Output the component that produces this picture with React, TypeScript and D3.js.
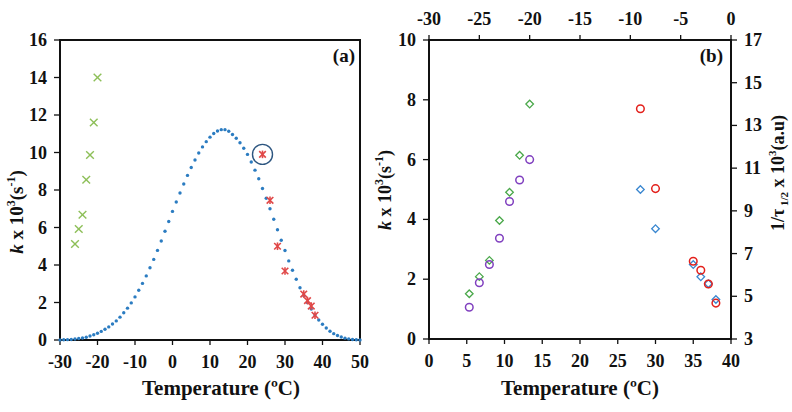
import React from "react";
import * as d3 from "d3";

// ---- Panel (a) data ----
const curveTemps = d3.range(-30, 51, 1);
const curveK = [
  0.0, 0.01, 0.02, 0.03, 0.05, 0.08, 0.11, 0.15, 0.21, 0.28,
  0.36, 0.46, 0.57, 0.7, 0.85, 1.02, 1.22, 1.45, 1.7, 1.98,
  2.3, 2.65, 3.02, 3.42, 3.85, 4.3, 4.78, 5.28, 5.8, 6.32,
  6.86, 7.36, 7.84, 8.32, 8.78, 9.2, 9.6, 9.97, 10.3, 10.58,
  10.82, 11.01, 11.15, 11.22, 11.22, 11.13, 10.96, 10.76, 10.52, 10.23,
  9.9, 9.49, 9.06, 8.6, 8.08, 7.56, 7.0, 6.44, 5.88, 5.32,
  4.77, 4.22, 3.72, 3.24, 2.79, 2.37, 2.0, 1.65, 1.34, 1.07,
  0.84, 0.64, 0.47, 0.34, 0.24, 0.16, 0.1, 0.06, 0.03, 0.01, 0.0,
];
const coldTemps = [-26, -25, -24, -23, -22, -21, -20];
const coldK = [5.12, 5.92, 6.68, 8.55, 9.87, 11.6, 14.0];
const hotTemps = [24, 26, 28, 30, 35, 36, 37, 38];
const hotK = [9.9, 7.45, 5.0, 3.68, 2.45, 2.1, 1.81, 1.32];
const circledIndex = 0;

// ---- Panel (b) data ----
const purpleK = [1.06, 1.88, 2.49, 3.37, 4.6, 5.32, 6.0];
const warmTemps = [28, 30, 35, 36, 37, 38];
const redInvTau = [7.7, 5.03, 2.6, 2.3, 1.84, 1.2];
const blueK = [5.0, 3.69, 2.49, 2.08, 1.85, 1.32];

// ---- ticks ----
const aXTicks = [-30, -20, -10, 0, 10, 20, 30, 40, 50];
const aYTicks = [0, 2, 4, 6, 8, 10, 12, 14, 16];
const bBottomTicks = [0, 5, 10, 15, 20, 25, 30, 35, 40];
const bTopTicks = [-30, -25, -20, -15, -10, -5, 0];
const bLeftTicks = [0, 2, 4, 6, 8, 10];
const bRightTicks = [3, 5, 7, 9, 11, 13, 15, 17];

const FONT = "'Liberation Serif', 'Times New Roman', serif";
const TICK_FS = 18;
const C_BLUE = "#2b7cc1";
const C_LGREEN = "#8dbf58";
const C_RED = "#e04848";
const C_GREEN = "#4aa84a";
const C_PURPLE = "#8040bf";
const C_RED2 = "#e3201b";
const C_BLUE2 = "#3a87d0";

function XMark({ x, y, s, color }: any) {
  return (
    <g stroke={color} strokeWidth={1.4}>
      <line x1={x - s} y1={y - s} x2={x + s} y2={y + s} />
      <line x1={x - s} y1={y + s} x2={x + s} y2={y - s} />
    </g>
  );
}
function StarMark({ x, y, s, color }: any) {
  return (
    <g stroke={color} strokeWidth={1.6}>
      <line x1={x - s} y1={y - s} x2={x + s} y2={y + s} />
      <line x1={x - s} y1={y + s} x2={x + s} y2={y - s} />
      <line x1={x} y1={y - s - 0.5} x2={x} y2={y + s + 0.5} />
    </g>
  );
}
function Diamond({ x, y, s, color }: any) {
  const p = `M${x},${y - s}L${x + s},${y}L${x},${y + s}L${x - s},${y}Z`;
  return <path d={p} fill="white" stroke={color} strokeWidth={1.3} />;
}

function KTitle({ x, y, fs }: any) {
  return (
    <text
      transform={`translate(${x},${y}) rotate(-90)`}
      textAnchor="middle"
      fontFamily={FONT}
      fontWeight="bold"
      fontSize={fs}
      fill="#111"
    >
      <tspan fontStyle="italic">k</tspan>
      <tspan> x 10</tspan>
      <tspan fontSize={12} dy={-8}>3</tspan>
      <tspan dy={8}>(s</tspan>
      <tspan fontSize={12} dy={-8}>-1</tspan>
      <tspan dy={8}>)</tspan>
    </text>
  );
}

export default function App() {
  const W = 792;
  const H = 412;
  // panel a
  const ax = d3.scaleLinear().domain([-30, 50]).range([60, 360]);
  const ay = d3.scaleLinear().domain([0, 16]).range([340, 40]);
  // panel b
  const bx = d3.scaleLinear().domain([0, 40]).range([429, 731]);
  const bxTop = d3.scaleLinear().domain([-30, 0]).range([429, 731]);
  const by = d3.scaleLinear().domain([0, 10]).range([339, 40]);
  const byR = d3.scaleLinear().domain([3, 17]).range([339, 40]);

  const tickText = {
    fontFamily: FONT,
    fontWeight: "bold" as const,
    fontSize: TICK_FS,
    fill: "#111",
  };

  return (
    <svg
      width={W}
      height={H}
      style={{ position: "absolute", left: 0, top: 0, background: "white" }}
    >
      {/* ===== Panel (a) ===== */}
      <rect x={60} y={40} width={300} height={300} fill="none" stroke="#111" strokeWidth={2} />
      {aXTicks.map((t) => (
        <g key={"ax" + t}>
          <line x1={ax(t)} x2={ax(t)} y1={340} y2={345} stroke="#111" strokeWidth={1.3} />
          <text x={ax(t)} y={368} textAnchor="middle" {...tickText}>{t}</text>
        </g>
      ))}
      {aYTicks.map((t) => (
        <g key={"ay" + t}>
          <line x1={54} x2={60} y1={ay(t)} y2={ay(t)} stroke="#111" strokeWidth={1.3} />
          <text x={47} y={ay(t) + 6} textAnchor="end" {...tickText}>{t}</text>
        </g>
      ))}
      <text x={221} y={395} textAnchor="middle" fontFamily={FONT} fontWeight="bold" fontSize={21} fill="#111">
        Temperature (ºC)
      </text>
      <KTitle x={23} y={212} fs={19} />
      <text x={355} y={62} textAnchor="end" fontFamily={FONT} fontWeight="bold" fontSize={19} fill="#111">(a)</text>

      {curveTemps.map((t, i) => (
        <circle key={"c" + t} cx={ax(t)} cy={ay(curveK[i])} r={1.7} fill={C_BLUE} />
      ))}
      {coldTemps.map((t, i) => (
        <XMark key={"g" + t} x={ax(t)} y={ay(coldK[i])} s={3.8} color={C_LGREEN} />
      ))}
      {hotTemps.map((t, i) => (
        <StarMark key={"r" + t} x={ax(t)} y={ay(hotK[i])} s={3.3} color={C_RED} />
      ))}
      <circle
        cx={ax(hotTemps[circledIndex])}
        cy={ay(hotK[circledIndex])}
        r={10}
        fill="none"
        stroke="#2d5680"
        strokeWidth={1.4}
      />

      {/* ===== Panel (b) ===== */}
      <rect x={429} y={40} width={302} height={299} fill="none" stroke="#111" strokeWidth={2} />
      {bBottomTicks.map((t) => (
        <g key={"bx" + t}>
          <line x1={bx(t)} x2={bx(t)} y1={339} y2={344} stroke="#111" strokeWidth={1.3} />
          <text x={bx(t)} y={367} textAnchor="middle" {...tickText}>{t}</text>
        </g>
      ))}
      {bTopTicks.map((t) => (
        <g key={"bt" + t}>
          <line x1={bxTop(t)} x2={bxTop(t)} y1={35} y2={40} stroke="#111" strokeWidth={1.3} />
          <text x={bxTop(t)} y={25} textAnchor="middle" {...tickText}>{t}</text>
        </g>
      ))}
      {bLeftTicks.map((t) => (
        <g key={"bl" + t}>
          <line x1={423} x2={429} y1={by(t)} y2={by(t)} stroke="#111" strokeWidth={1.3} />
          <text x={416} y={by(t) + 6} textAnchor="end" {...tickText}>{t}</text>
        </g>
      ))}
      {bRightTicks.map((t) => (
        <g key={"br" + t}>
          <line x1={731} x2={737} y1={byR(t)} y2={byR(t)} stroke="#111" strokeWidth={1.3} />
          <text x={744} y={byR(t) + 6} textAnchor="start" {...tickText}>{t}</text>
        </g>
      ))}
      <text x={580} y={395} textAnchor="middle" fontFamily={FONT} fontWeight="bold" fontSize={21} fill="#111">
        Temperature (ºC)
      </text>
      <KTitle x={391} y={190} fs={18} />
      <text
        transform={`translate(${784},${173}) rotate(-90)`}
        textAnchor="middle"
        fontFamily={FONT}
        fontWeight="bold"
        fontSize={18}
        fill="#111"
      >
        <tspan>1/τ</tspan>
        <tspan fontSize={11} dy={4}> 1/2</tspan>
        <tspan dy={-4}> x 10</tspan>
        <tspan fontSize={11} dy={-8}>3</tspan>
        <tspan dy={8}>(a.u)</tspan>
      </text>
      <text x={723} y={62} textAnchor="end" fontFamily={FONT} fontWeight="bold" fontSize={19} fill="#111">(b)</text>

      {coldTemps.map((t, i) => (
        <Diamond key={"gd" + t} x={bxTop(t)} y={byR(coldK[i])} s={3.8} color={C_GREEN} />
      ))}
      {coldTemps.map((t, i) => (
        <circle key={"pc" + t} cx={bxTop(t)} cy={by(purpleK[i])} r={3.8} fill="none" stroke={C_PURPLE} strokeWidth={1.5} />
      ))}
      {warmTemps.map((t, i) => (
        <Diamond key={"bd" + t} x={bx(t)} y={by(blueK[i])} s={3.8} color={C_BLUE2} />
      ))}
      {warmTemps.map((t, i) => (
        <circle key={"rc" + t} cx={bx(t)} cy={by(redInvTau[i])} r={3.8} fill="none" stroke={C_RED2} strokeWidth={1.5} />
      ))}
    </svg>
  );
}
